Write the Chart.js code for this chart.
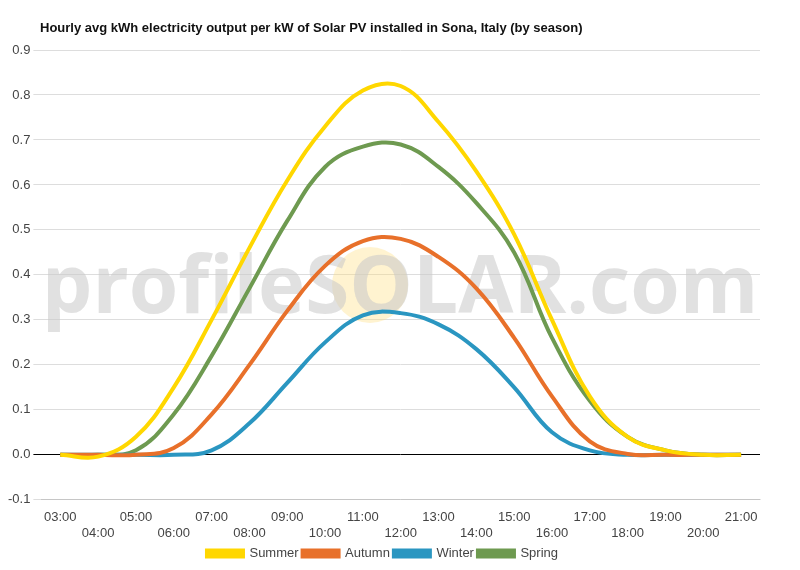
<!DOCTYPE html>
<html><head><meta charset="utf-8">
<script src="https://cdn.jsdelivr.net/npm/chart.js@4"></script>
<style>body{margin:0;background:#fff}#w{width:800px;height:570px}</style>
</head><body><div id="w"><canvas id="c"></canvas></div>
<script>
const hours=['03:00','04:00','05:00','06:00','07:00','08:00','09:00','10:00','11:00','12:00','13:00','14:00','15:00','16:00','17:00','18:00','19:00','20:00','21:00'];
const summer=[0,-0.004,0.04,0.15,0.30,0.46,0.61,0.73,0.81,0.82,0.74,0.63,0.49,0.30,0.13,0.04,0.01,0,0];
const autumn=[0,0,0,0.015,0.09,0.20,0.32,0.42,0.475,0.48,0.44,0.37,0.26,0.13,0.03,0.002,0,0,0];
const winter=[0,0,0,0,0.01,0.07,0.16,0.25,0.31,0.315,0.29,0.235,0.15,0.05,0.01,0,0,0,0];
const spring=[0,0,0.01,0.09,0.22,0.37,0.52,0.64,0.685,0.69,0.64,0.56,0.45,0.26,0.12,0.04,0.01,0,0];
const labels=hours.map((h,i)=>i%2?['',h]:h);
const wm={id:'wm',beforeDatasetsDraw(ch){const c=ch.ctx;c.save();
c.fillStyle='rgba(255,220,120,0.35)';c.beginPath();c.arc(370,285,38,0,Math.PI*2);c.fill();
c.font='bold 80px "Open Sans", Arial';c.fillStyle='rgba(200,200,200,0.55)';c.textBaseline='middle';c.textAlign='center';
c.fillText('profileSOLAR.com',400,290);c.restore();},
afterDraw(ch){const c=ch.ctx;c.save();c.font='bold 13px Arial';c.fillStyle='#111';c.textBaseline='middle';
c.fillText('Hourly avg kWh electricity output per kW of Solar PV installed in Sona, Italy (by season)',40,28);c.restore();}};
const ds=(l,d,col)=>({label:l,data:d,borderColor:col,backgroundColor:col,borderWidth:4,pointRadius:0,tension:0.4,fill:false});
new Chart(document.getElementById('c'),{type:'line',plugins:[wm],
data:{labels,datasets:[ds('Summer',summer,'#FFD700'),ds('Autumn',autumn,'#E8702A'),ds('Winter',winter,'#2A96C1'),ds('Spring',spring,'#6E9A50')]},
options:{responsive:true,maintainAspectRatio:false,animation:false,
layout:{padding:{left:5,right:40,top:50,bottom:0}},
plugins:{legend:{position:'bottom',labels:{boxWidth:36,boxHeight:6,color:'#444',font:{size:13,family:'Arial'},padding:4}},tooltip:{enabled:false}},
scales:{x:{offset:true,grid:{display:false},ticks:{autoSkip:false,maxRotation:0,color:'#444',padding:2,font:{size:13,family:'Arial'}}},
y:{min:-0.1,max:0.9,ticks:{stepSize:0.1,color:'#444',font:{size:13,family:'Arial'},callback:v=>v.toFixed(1)},border:{display:false},
grid:{color:c=>Math.abs(c.tick.value)<1e-9?'#000':'#ddd'}}}}});
</script></body></html>
